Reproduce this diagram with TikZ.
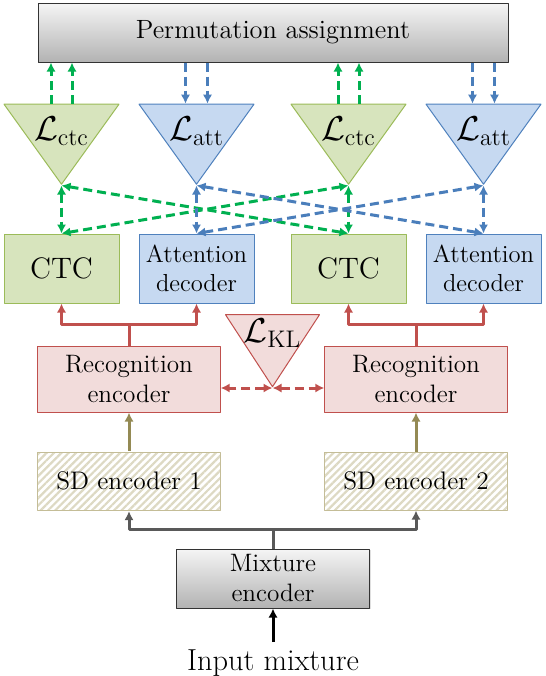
\documentclass[tikz,border=0pt]{standalone}
\usepackage{tikz}
\usetikzlibrary{positioning, shapes, shapes.geometric, arrows.meta, patterns.meta, shadows}
\usepackage{amsmath}
\definecolor{ctcfill}{HTML}{D7E4BD}
\definecolor{ctcline}{HTML}{9BBB59}
\definecolor{ctcarrow}{HTML}{00B050}
\definecolor{attfill}{HTML}{C6D9F1}
\definecolor{attline}{HTML}{4F81BD}
\definecolor{attarrow}{HTML}{4A7EBB}
\definecolor{recfill}{HTML}{F2DCDB}
\definecolor{recline}{HTML}{C0504D}
\definecolor{sdline}{HTML}{C4BD97}
\definecolor{sdhatch}{HTML}{DDD9C3}
\definecolor{sdarrow}{HTML}{948A54}
\definecolor{mixarrow}{HTML}{595959}
\tikzstyle{block} = [draw, rectangle, line width=0.5pt,
    align=center, inner sep=0pt]
\tikzstyle{grayblock} = [block, draw=black!80, top color=black!4,
    bottom color=black!30,
    drop shadow={opacity=0.25, shadow xshift=0.7pt, shadow yshift=-0.7pt}]
\tikzstyle{ctcblock} = [block, fill=ctcfill, draw=ctcline,
    minimum width=57.5pt, minimum height=34.5pt,
    font=\fontsize{14.8}{17}\selectfont]
\tikzstyle{attblock} = [block, fill=attfill, draw=attline,
    minimum width=57.5pt, minimum height=34.5pt,
    font=\fontsize{12.3}{14.5}\selectfont]
\tikzstyle{recblock} = [block, fill=recfill, draw=recline,
    minimum width=91.2pt, minimum height=33pt,
    font=\fontsize{12.6}{15}\selectfont]
\tikzstyle{sdblock} = [block, draw=sdline,
    pattern={Lines[angle=45, distance=2.6pt, line width=1.1pt]},
    pattern color=sdhatch,
    minimum width=91.2pt, minimum height=29pt,
    font=\fontsize{12.7}{15}\selectfont]
\tikzstyle{loss} = [isosceles triangle, isosceles triangle stretches,
    shape border rotate=270, draw, line width=0.5pt, inner sep=0pt,
    minimum width=57.5pt, minimum height=40pt]
\tikzstyle{losstext} = [anchor=north, inner sep=0pt, font=\LARGE]
\tikzstyle{ctcdash} = [ctcarrow, line width=1.5pt, dash pattern=on 4.5pt off 2.5pt]
\tikzstyle{attdash} = [attarrow, line width=1.5pt, dash pattern=on 4.5pt off 2.5pt]
\tikzstyle{recdash} = [recline, line width=1.5pt, dash pattern=on 4.5pt off 2.5pt]
\tikzstyle{recarrow} = [recline, line width=1.5pt]

\begin{document}
\begin{tikzpicture}[>={Latex[length=4.5pt, width=4.6pt]}, line join=round]
    \useasboundingbox (0,0) rectangle (273pt,-338pt);

    \node[
        grayblock,
        minimum width=235pt, minimum height=29.4pt,
        font=\fontsize{13.2}{15}\selectfont
    ](perm) at (136.5pt,-16.3pt){Permutation assignment};

    \node[ctcblock](ctcA) at (30.75pt,-134.25pt){CTC};
    \node[
        attblock,
        right of=ctcA,
        node distance=67.5pt
    ](attA){Attention\\decoder};
    \node[
        ctcblock,
        right of=attA,
        node distance=76pt
    ](ctcB){CTC};
    \node[
        attblock,
        right of=ctcB,
        node distance=67.5pt
    ](attB){Attention\\decoder};

    \node[
        loss, fill=ctcfill, draw=ctcline,
        above=24pt of ctcA,
        label={[losstext, yshift=-6.5pt]north:$\mathcal{L}_{\mathrm{ctc}}$}
    ](lctcA){};
    \node[
        loss, fill=attfill, draw=attline,
        above=24pt of attA,
        label={[losstext, yshift=-6.5pt]north:$\mathcal{L}_{\mathrm{att}}$}
    ](lattA){};
    \node[
        loss, fill=ctcfill, draw=ctcline,
        above=24pt of ctcB,
        label={[losstext, yshift=-6.5pt]north:$\mathcal{L}_{\mathrm{ctc}}$}
    ](lctcB){};
    \node[
        loss, fill=attfill, draw=attline,
        above=24pt of attB,
        label={[losstext, yshift=-6.5pt]north:$\mathcal{L}_{\mathrm{att}}$}
    ](lattB){};

    \node[recblock](recA) at (64.5pt,-189.5pt){Recognition\\encoder};
    \node[
        recblock,
        right of=recA,
        node distance=143.5pt
    ](recB){Recognition\\encoder};
    \node[
        loss, fill=recfill, draw=recline,
        minimum width=47pt, minimum height=36pt,
        anchor=south,
        label={[losstext, yshift=-2pt]north:$\mathcal{L}_{\mathrm{KL}}$}
    ](kl) at (136.25pt,-194pt){};

    \node[
        sdblock,
        below of=recA,
        node distance=51pt
    ](sdA){SD encoder 1};
    \node[
        sdblock,
        below of=recB,
        node distance=51pt
    ](sdB){SD encoder 2};

    \node[
        grayblock,
        minimum width=96.2pt, minimum height=29.5pt,
        font=\fontsize{12.6}{15}\selectfont
    ](mix) at (136.5pt,-289.25pt){Mixture\\encoder};
    \node[
        font=\fontsize{15.2}{17}\selectfont,
        anchor=base
    ](in) at (136.5pt,-335pt){Input mixture};

    \coordinate[above=10.5pt of recA](splitA);
    \coordinate[above=10.5pt of recB](splitB);
    \coordinate[above=9.5pt of mix](splitM);

    \draw[ctcdash, ->] ([xshift=-5.25pt]lctcA.north) -- ([xshift=-5.25pt]lctcA.north |- perm.south);
    \draw[ctcdash, ->] ([xshift=5.25pt]lctcA.north) -- ([xshift=5.25pt]lctcA.north |- perm.south);
    \draw[ctcdash, ->] ([xshift=-5.25pt]lctcB.north) -- ([xshift=-5.25pt]lctcB.north |- perm.south);
    \draw[ctcdash, ->] ([xshift=5.25pt]lctcB.north) -- ([xshift=5.25pt]lctcB.north |- perm.south);
    \draw[attdash, ->] ([xshift=-5.5pt]lattA.north |- perm.south) -- ([xshift=-5.5pt]lattA.north);
    \draw[attdash, ->] ([xshift=5.5pt]lattA.north |- perm.south) -- ([xshift=5.5pt]lattA.north);
    \draw[attdash, ->] ([xshift=-5.5pt]lattB.north |- perm.south) -- ([xshift=-5.5pt]lattB.north);
    \draw[attdash, ->] ([xshift=5.5pt]lattB.north |- perm.south) -- ([xshift=5.5pt]lattB.north);

    \draw[ctcdash, <->] (lctcA.south) -- (ctcA.north);
    \draw[ctcdash, <->] (lctcB.south) -- (ctcB.north);
    \draw[ctcdash, <->] (lctcA.south) -- (ctcB.north);
    \draw[ctcdash, <->] (lctcB.south) -- (ctcA.north);
    \draw[attdash, <->] (lattA.south) -- (attA.north);
    \draw[attdash, <->] (lattB.south) -- (attB.north);
    \draw[attdash, <->] (lattA.south) -- (attB.north);
    \draw[attdash, <->] (lattB.south) -- (attA.north);

    \draw[recarrow] (recA.north) -- (splitA);
    \draw[recarrow, ->] (splitA) -| (ctcA.south);
    \draw[recarrow, ->] (splitA) -| (attA.south);
    \draw[recarrow] (recB.north) -- (splitB);
    \draw[recarrow, ->] (splitB) -| (ctcB.south);
    \draw[recarrow, ->] (splitB) -| (attB.south);

    \draw[recdash, <->] (kl.south) -- (kl.south -| recA.east);
    \draw[recdash, <->] (kl.south) -- (kl.south -| recB.west);

    \draw[sdarrow, line width=1.5pt, ->] (sdA) -- (recA);
    \draw[sdarrow, line width=1.5pt, ->] (sdB) -- (recB);

    \draw[mixarrow, line width=1.5pt] (mix.north) -- (splitM);
    \draw[mixarrow, line width=1.5pt, ->] (splitM) -| (sdA.south);
    \draw[mixarrow, line width=1.5pt, ->] (splitM) -| (sdB.south);

    \draw[line width=1.5pt, ->] (in) -- (mix);
\end{tikzpicture}
\end{document}
